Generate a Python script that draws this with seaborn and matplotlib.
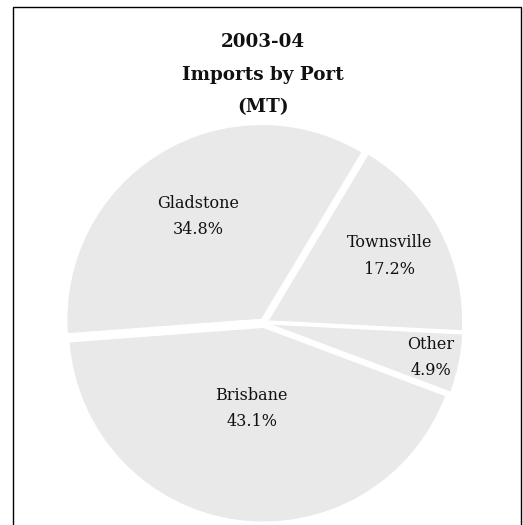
import numpy as np
import matplotlib
matplotlib.use("Agg")
import matplotlib.pyplot as plt
import seaborn as sns
from matplotlib.patches import Rectangle

# data (counter-clockwise from the Gladstone/Townsville split)
ports = ["Gladstone", "Brisbane", "Other", "Townsville"]
shares = [34.8, 43.1, 4.9, 17.2]
label_radius = [0.62, 0.42, 0.85, 0.71]

sns.set_theme(style="white")
plt.rcParams["font.family"] = ["DejaVu Serif"]

fig = plt.figure(figsize=(5.23, 5.25), dpi=100)
fig.patch.set_facecolor("white")

# figure frame
fig.patches.append(Rectangle((12.5 / 523, -0.02), 508.5 / 523, 1.02 - 6.5 / 525,
                             transform=fig.transFigure, fill=False,
                             edgecolor="black", linewidth=1.0))

R = 195.0        # pie radius in pixels
cx_pix, cy_pix = 264, 323
half = 1.1 * R
ax = fig.add_axes([(cx_pix - half) / 523, (525 - cy_pix - half) / 525, 2 * half / 523, 2 * half / 525])
wedges, _ = ax.pie(shares, startangle=59, counterclock=True,
                   colors=["#e9e9e9"] * len(shares),
                   explode=[0.022] * len(shares),
                   wedgeprops=dict(edgecolor="white", linewidth=1.0))
ax.set_xlim(-1.1, 1.1)
ax.set_ylim(-1.1, 1.1)
ax.set_aspect("equal")
ax.axis("off")

for w, name, val, r in zip(wedges, ports, shares, label_radius):
    ang = np.deg2rad((w.theta1 + w.theta2) / 2)
    cx, cy = w.center
    x = cx + r * np.cos(ang)
    y = cy + r * np.sin(ang)
    ax.text(x, y + 0.068, name, ha="center", va="center", fontsize=11.5, color="#111111")
    ax.text(x, y - 0.068, f"{val:.1f}%", ha="center", va="center", fontsize=11.5, color="#111111")

for txt, ypix in zip(["2003-04", "Imports by Port", "(MT)"], [42, 75, 107]):
    fig.text(263 / 523, 1 - ypix / 525, txt, ha="center", va="center",
             fontsize=13.2, fontweight="bold", color="#111111")

fig.savefig("out.png", dpi=100)
